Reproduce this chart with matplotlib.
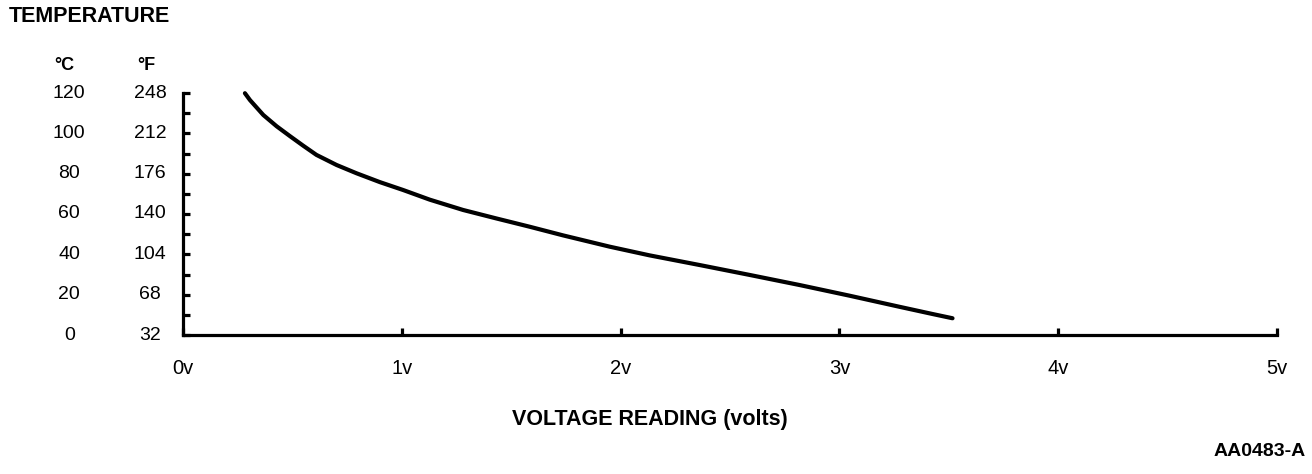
import matplotlib
matplotlib.use('Agg')
import matplotlib.pyplot as plt
import numpy as np
from matplotlib.ticker import MultipleLocator

plt.rcParams['font.family'] = ['Liberation Sans', 'DejaVu Sans']

# Curva: voltaje (V) frente a temperatura (°C)
volts = [0.283, 0.306, 0.367, 0.428, 0.489, 0.549, 0.610, 0.702, 0.793,
         0.900, 1.006, 1.128, 1.280, 1.432, 1.584, 1.737, 1.950, 2.132,
         2.361, 2.589, 2.817, 3.046, 3.274, 3.426, 3.517]
temp_c = [119.9, 116.5, 109.1, 103.5, 98.6, 93.9, 89.3, 84.3, 80.2,
          75.8, 71.9, 67.1, 62.0, 57.8, 53.7, 49.4, 43.8, 39.5,
          34.7, 29.8, 24.8, 19.5, 14.0, 10.4, 8.3]

# Etiquetas del eje vertical
c_ticks = [0, 20, 40, 60, 80, 100, 120]
f_labels = ['32', '68', '104', '140', '176', '212', '248']
x_ticks = [0, 1, 2, 3, 4, 5]
x_labels = ['0v', '1v', '2v', '3v', '4v', '5v']

W, H = 1312, 474
fig = plt.figure(figsize=(W / 100, H / 100), dpi=100)
ax = fig.add_axes([183 / W, 1 - 335 / H, 1094 / W, 242 / H])

ax.plot(volts, temp_c, color='black', linewidth=3.0,
        solid_capstyle='round', solid_joinstyle='round', clip_on=False)

ax.set_xlim(0, 5)
ax.set_ylim(0, 120)
for side in ['top', 'right']:
    ax.spines[side].set_visible(False)
for side in ['left', 'bottom']:
    ax.spines[side].set_linewidth(2.3)

ax.set_xticks(x_ticks, labels=x_labels)
ax.tick_params(axis='x', direction='in', length=5, width=2.3, pad=17, labelsize=14.5)
ax.yaxis.set_major_locator(MultipleLocator(10))
ax.tick_params(axis='y', direction='in', length=5, width=2.3, labelleft=False)

# Columnas °C y °F a la izquierda
tr = ax.get_yaxis_transform()
for c, f in zip(c_ticks, f_labels):
    ax.text(-0.104, c, str(c), transform=tr, ha='center', va='center', fontsize=14)
    ax.text(-0.030, c, f, transform=tr, ha='center', va='center', fontsize=14)

fig.text(64 / W, 1 - 66 / H, '°C', ha='center', va='center', fontsize=13, fontweight='bold')
fig.text(146 / W, 1 - 66 / H, '°F', ha='center', va='center', fontsize=13, fontweight='bold')
fig.text(9 / W, 1 - 17 / H, 'TEMPERATURE', ha='left', va='center', fontsize=15.5, fontweight='bold')
fig.text(650 / W, 1 - 419 / H, 'VOLTAGE READING (volts)', ha='center', va='center',
         fontsize=15.5, fontweight='bold')
fig.text(1306 / W, 1 - 452 / H, 'AA0483-A', ha='right', va='center', fontsize=14, fontweight='bold')

fig.savefig('out.png', dpi=100, facecolor='white')
